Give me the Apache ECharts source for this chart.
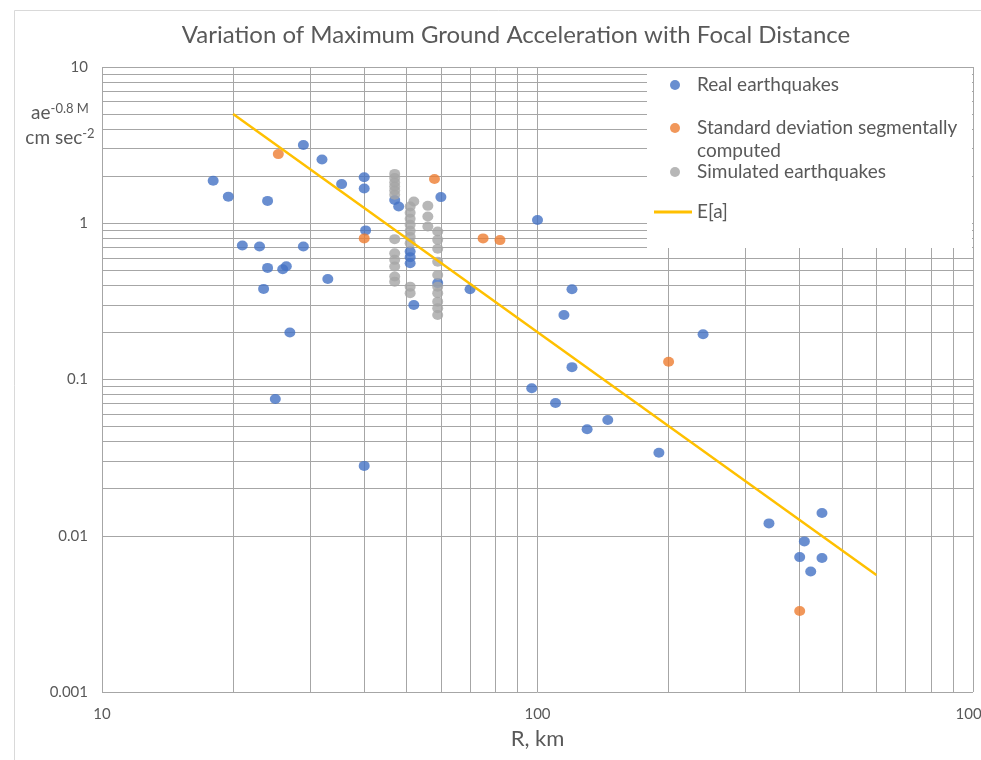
<!DOCTYPE html>
<html>
<head>
<meta charset="utf-8">
<script src="https://cdn.jsdelivr.net/npm/echarts@6/dist/echarts.min.js"></script>
<style>
html,body{margin:0;padding:0;background:#fff;}
#c{width:981px;height:760px;}
</style>
</head>
<body>
<div id="c"></div>
<script>
// ---- data (R in km, a·e^-0.8M in cm/s²) ----
const realR = [18, 19.5, 24, 29, 32, 35.5, 40, 40, 40.3, 21, 23, 29, 24, 26, 26.5, 33, 23.5, 27, 25, 40,
  47, 48, 51, 51, 51, 52, 60, 59, 70, 100, 120, 115, 120, 97, 110, 130, 145, 190, 240, 340, 450, 410, 400, 450, 424];
const realA = [1.87, 1.48, 1.39, 3.17, 2.56, 1.78, 1.97, 1.67, 0.90, 0.72, 0.71, 0.71, 0.518, 0.508, 0.531, 0.44, 0.38, 0.20, 0.075, 0.028,
  1.41, 1.28, 0.659, 0.607, 0.555, 0.30, 1.47, 0.414, 0.378, 1.05, 0.378, 0.259, 0.12, 0.088, 0.0707, 0.048, 0.055, 0.034, 0.195, 0.012, 0.0140, 0.0092, 0.0073, 0.0072, 0.0059];

const sdR = [25.4, 40, 58, 75, 82, 200, 400];
const sdA = [2.77, 0.80, 1.92, 0.80, 0.78, 0.13, 0.0033];

const simR = [47, 47, 47, 47, 47, 47, 47, 47, 47, 47, 47, 47,
  52, 51, 51, 51, 51, 51, 51, 51, 51, 51,
  56, 56, 56,
  59, 59, 59, 59, 59, 59, 59, 59, 59, 59];
const simA = [2.07, 1.945, 1.822, 1.719, 1.62, 1.52, 0.791, 0.643, 0.583, 0.528, 0.456, 0.423,
  1.377, 1.279, 1.166, 1.067, 0.977, 0.894, 0.818, 0.746, 0.393, 0.357,
  1.292, 1.104, 0.953,
  0.885, 0.783, 0.686, 0.568, 0.467, 0.393, 0.357, 0.315, 0.286, 0.259];

const eaR = [20, 600];
const eaA = [5, 0.0056];

const xTickLabels = {1: '10', 2: '100', 3: '1000'};
const yTickLabels = {'-3': '0.001', '-2': '0.01', '-1': '0.1', '0': '1', '1': '10'};
const xMinor = [20, 30, 40, 50, 60, 70, 80, 90, 200, 300, 400, 500, 600, 700, 800, 900];
const yMinor = [0.002, 0.003, 0.004, 0.005, 0.006, 0.007, 0.008, 0.009,
  0.02, 0.03, 0.04, 0.05, 0.06, 0.07, 0.08, 0.09,
  0.2, 0.3, 0.4, 0.5, 0.6, 0.7, 0.8, 0.9,
  2, 3, 4, 5, 6, 7, 8, 9];

const seriesNames = ['Real earthquakes', 'Standard deviation segmentally computed', 'Simulated earthquakes', 'E[a]'];
const FONT = 'Lato';
const TXT = '#595959';
const GRID = '#a6a6a6';

const zip = (a, b) => a.map((v, i) => [v, b[i]]);

const chart = echarts.init(document.getElementById('c'), null, {renderer: 'canvas'});

const legendText = {fontFamily: FONT, fontSize: 19, color: TXT, lineHeight: 23};
const legendBase = {orient: 'vertical', padding: 0, itemGap: 0, selectedMode: false, textStyle: legendText};

chart.setOption({
  animation: false,
  backgroundColor: '#fff',
  title: {
    text: 'Variation of Maximum Ground Acceleration with Focal Distance',
    left: 511, top: 18, textAlign: 'center',
    textStyle: {fontFamily: FONT, fontSize: 24, fontWeight: 'normal', color: TXT}
  },
  grid: {left: 102, right: 8, top: 67, bottom: 68, containLabel: false, outerBoundsMode: 'none'},
  xAxis: {
    type: 'log', logBase: 10, min: 10, max: 1000,
    name: 'R, km', nameLocation: 'middle', nameGap: 36,
    nameTextStyle: {fontFamily: FONT, fontSize: 22, color: TXT},
    axisLine: {show: false}, axisTick: {show: false},
    axisLabel: {fontFamily: FONT, fontSize: 15, color: TXT, margin: 15,
      formatter: v => xTickLabels[Math.round(Math.log10(v))]},
    splitLine: {show: true, lineStyle: {color: GRID, width: 1}}
  },
  yAxis: {
    type: 'log', logBase: 10, min: 0.001, max: 10,
    axisLine: {show: false}, axisTick: {show: false},
    axisLabel: {fontFamily: FONT, fontSize: 15, color: TXT, margin: 14,
      formatter: v => yTickLabels[String(Math.round(Math.log10(v)))]},
    splitLine: {show: true, lineStyle: {color: GRID, width: 1}}
  },
  legend: [
    Object.assign({}, legendBase, {data: [{name: seriesNames[0], icon: 'circle'}], left: 670, top: 73.5, itemWidth: 34, itemHeight: 10}),
    Object.assign({}, legendBase, {data: [{name: seriesNames[1], icon: 'circle'}], left: 670, top: 93.5, itemWidth: 34, itemHeight: 10,
      formatter: () => '\nStandard deviation segmentally\ncomputed'}),
    Object.assign({}, legendBase, {data: [{name: seriesNames[2], icon: 'circle'}], left: 670, top: 160.5, itemWidth: 34, itemHeight: 10}),
    Object.assign({}, legendBase, {data: [{name: seriesNames[3], icon: 'rect'}], left: 654, top: 200.5, itemWidth: 38, itemHeight: 3})
  ],
  graphic: [
    {type: 'rect', z: 1, silent: true, shape: {x: 647, y: 68, width: 325, height: 180}, style: {fill: '#fff'}},
    {type: 'rect', z: 0, silent: true, shape: {x: 14.5, y: 10.5, width: 1000, height: 800}, style: {fill: 'none', stroke: '#d9d9d9', lineWidth: 1}},
    {type: 'text', z: 5, silent: true,
      style: {
        x: 60, y: 100.5, align: 'center', verticalAlign: 'top',
        text: '{n|ae}{s|-0.8 M}\n{n|cm sec}{s|-2}',
        fill: TXT, fontFamily: FONT,
        rich: {
          n: {fontFamily: FONT, fontSize: 19, color: TXT, lineHeight: 25, verticalAlign: 'middle'},
          s: {fontFamily: FONT, fontSize: 13, color: TXT, lineHeight: 13, verticalAlign: 'top', padding: [2, 0, 0, 0]}
        }
      }}
  ],
  series: [
    {name: seriesNames[0], type: 'scatter', symbol: 'circle', symbolSize: [11, 10], z: 3,
      itemStyle: {color: '#4472C4'}, data: zip(realR, realA)},
    {name: seriesNames[1], type: 'scatter', symbol: 'circle', symbolSize: [11, 10], z: 3,
      itemStyle: {color: '#ED7D31'}, data: zip(sdR, sdA)},
    {name: seriesNames[2], type: 'scatter', symbol: 'circle', symbolSize: [11, 10], z: 3,
      itemStyle: {color: '#A5A5A5'}, data: zip(simR, simA)},
    {name: seriesNames[3], type: 'line', symbol: 'none', z: 4,
      lineStyle: {color: '#FFC000', width: 2.5}, itemStyle: {color: '#FFC000'},
      data: zip(eaR, eaA)},
    {name: 'minor-grid', type: 'line', data: [], z: 0, silent: true,
      markLine: {
        silent: true, symbol: 'none', z: 0, animation: false,
        label: {show: false},
        lineStyle: {color: GRID, width: 1, type: 'solid'},
        data: xMinor.map(v => ({xAxis: v})).concat(yMinor.map(v => ({yAxis: v})))
      }}
  ]
});
</script>
</body>
</html>
